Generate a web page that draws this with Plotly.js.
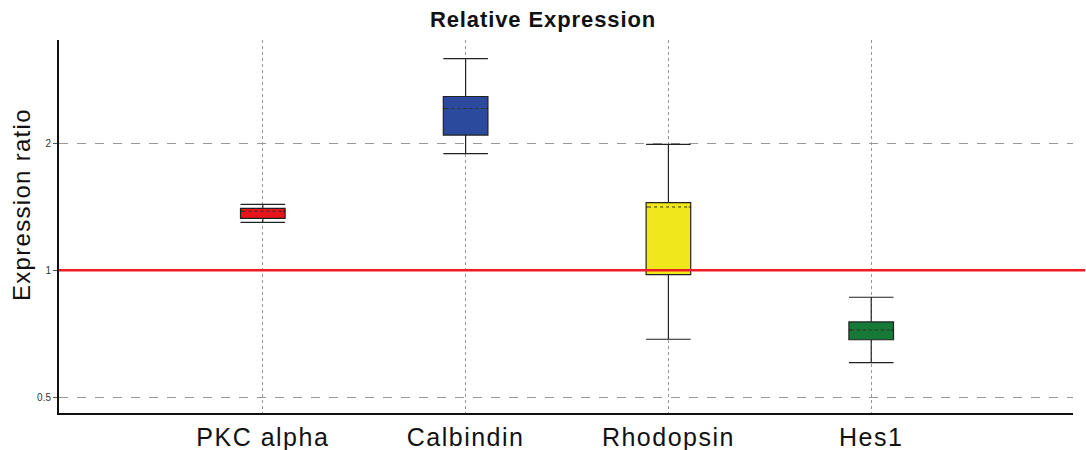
<!DOCTYPE html>
<html><head><meta charset="utf-8">
<script src="https://cdn.plot.ly/plotly-3.0.1.min.js"></script>
<style>
body{margin:0;background:#fff}#c{width:1086px;height:450px}
#c .xtick text{letter-spacing:1.5px}
#c .annotation-text{letter-spacing:1.3px}
#c .gtitle{letter-spacing:0.9px}
</style>
</head><body><div id="c"></div>
<script>
const categories = ["PKC alpha", "Calbindin", "Rhodopsin", "Hes1"];
const upperWhisker = [1.434, 3.18, 1.989, 0.863];
const q3 = [1.403, 2.585, 1.447, 0.754];
const median = [1.380, 2.421, 1.413, 0.721];
const q1 = [1.328, 2.093, 0.977, 0.684];
const lowerWhisker = [1.299, 1.891, 0.686, 0.604];
const fillColors = ["#e8141c", "#2b4a9e", "#f0e81a", "#167a36"];
const yTicks = [0.5, 1, 2];
const refLine = 1;

const halfW = 0.11;
const traces = [];
categories.forEach((c, i) => {
  traces.push({
    type: "box", x: [i], q1: [q1[i]], median: [median[i]], q3: [q3[i]],
    lowerfence: [lowerWhisker[i]], upperfence: [upperWhisker[i]],
    width: 2 * halfW, whiskerwidth: 1,
    fillcolor: fillColors[i], line: {color: "#222", width: 1.2},
    boxpoints: false, hoverinfo: "skip", showlegend: false
  });
});
// dashed median overlay
categories.forEach((c, i) => {
  traces.push({
    type: "scatter", mode: "lines", x: [i - halfW + 0.01, i + halfW - 0.01], y: [median[i], median[i]],
    line: {color: fillColors[i], width: 2}, hoverinfo: "skip", showlegend: false
  });
  traces.push({
    type: "scatter", mode: "lines", x: [i - halfW + 0.01, i + halfW - 0.01], y: [median[i], median[i]],
    line: {color: "#333", width: 1, dash: "dot"}, hoverinfo: "skip", showlegend: false
  });
});

const layout = {
  width: 1086, height: 450,
  margin: {l: 59, r: 13, t: 40, b: 37},
  paper_bgcolor: "#fff", plot_bgcolor: "#fff",
  title: {text: "<b>Relative Expression</b>", x: 0.5, xref: "container", y: 0.957, yanchor: "middle",
          font: {family: "Liberation Sans, Arial", size: 22, color: "#111"}},
  xaxis: {
    range: [-1.005, 3.995], tickvals: categories.map((c, i) => i), ticktext: categories,
    showline: true, linecolor: "#111", linewidth: 2, zeroline: false,
    showgrid: true, gridcolor: "#999", griddash: "dot", gridwidth: 1,
    ticks: "", tickfont: {family: "Liberation Sans, Arial", size: 25, color: "#111"},
    ticklabelstandoff: 1
  },
  yaxis: {
    type: "log", range: [Math.log10(0.4584), Math.log10(3.52)],
    tickvals: yTicks, ticktext: yTicks.map(String),
    showline: true, linecolor: "#111", linewidth: 2, zeroline: false,
    showgrid: true, gridcolor: "#999", griddash: "dash", gridwidth: 1,
    ticks: "outside", ticklen: 4, tickcolor: "#555",
    tickfont: {family: "Liberation Sans, Arial", size: 10, color: "#333"}
  },
  annotations: [{text: "Expression ratio", textangle: -90, xref: "paper", yref: "paper",
                 x: -0.037, y: 0.56, xanchor: "center", yanchor: "middle", showarrow: false,
                 font: {family: "Liberation Sans, Arial", size: 24, color: "#111"}}],
  shapes: [{type: "line", xref: "paper", x0: 0, x1: 1.012, yref: "y", y0: refLine, y1: refLine,
            line: {color: "#ee1c24", width: 2.5}}]
};
Plotly.newPlot("c", traces, layout, {staticPlot: true});
</script></body></html>
